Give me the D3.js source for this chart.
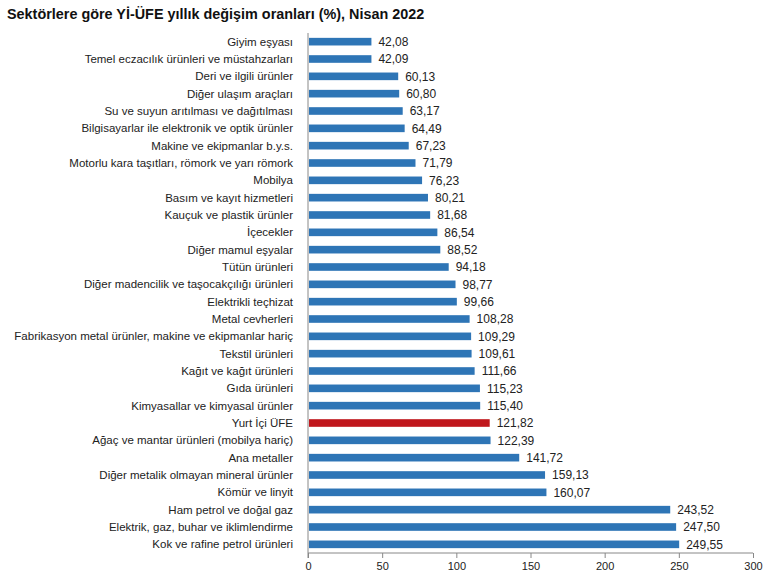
<!DOCTYPE html>
<html>
<head>
<meta charset="utf-8">
<script src="https://cdn.jsdelivr.net/npm/d3@7"></script>
<style>
body { margin: 0; background: #fff; font-family: "Liberation Sans", Arial, sans-serif; }
.title { font-weight: bold; font-size: 14.4px; fill: #111; }
.cat { font-size: 11.5px; fill: #222; }
.val { font-size: 12px; fill: #222; }
.axis text { font-size: 11px; fill: #222; font-family: "Liberation Sans", Arial, sans-serif; }
.axis path, .axis line { stroke: #888; }
</style>
</head>
<body>
<div id="chart"></div>
<script>
// sector names, top to bottom
const sectors = [
	"Giyim eşyası",
	"Temel eczacılık ürünleri ve müstahzarları",
	"Deri ve ilgili ürünler",
	"Diğer ulaşım araçları",
	"Su ve suyun arıtılması ve dağıtılması",
	"Bilgisayarlar ile elektronik ve optik ürünler",
	"Makine ve ekipmanlar b.y.s.",
	"Motorlu kara taşıtları, römork ve yarı römork",
	"Mobilya",
	"Basım ve kayıt hizmetleri",
	"Kauçuk ve plastik ürünler",
	"İçecekler",
	"Diğer mamul eşyalar",
	"Tütün ürünleri",
	"Diğer madencilik ve taşocakçılığı ürünleri",
	"Elektrikli teçhizat",
	"Metal cevherleri",
	"Fabrikasyon metal ürünler, makine ve ekipmanlar hariç",
	"Tekstil ürünleri",
	"Kağıt ve kağıt ürünleri",
	"Gıda ürünleri",
	"Kimyasallar ve kimyasal ürünler",
	"Yurt İçi ÜFE",
	"Ağaç ve mantar ürünleri (mobilya hariç)",
	"Ana metaller",
	"Diğer metalik olmayan mineral ürünler",
	"Kömür ve linyit",
	"Ham petrol ve doğal gaz",
	"Elektrik, gaz, buhar ve iklimlendirme",
	"Kok ve rafine petrol ürünleri"
];
const rates = [42.08, 42.09, 60.13, 60.80, 63.17, 64.49, 67.23, 71.79, 76.23, 80.21,
	81.68, 86.54, 88.52, 94.18, 98.77, 99.66, 108.28, 109.29, 109.61, 111.66,
	115.23, 115.40, 121.82, 122.39, 141.72, 159.13, 160.07, 243.52, 247.50, 249.55];
const xTicks = [0, 50, 100, 150, 200, 250, 300];
const highlight = "Yurt İçi ÜFE";

const width = 770, height = 585;
const plotLeft = 308, plotRight = 753, plotTop = 33, plotBottom = 553;

const svg = d3.select("#chart").append("svg")
	.attr("width", width)
	.attr("height", height);

svg.append("text")
	.attr("class", "title")
	.attr("x", 7)
	.attr("y", 19)
	.text("Sektörlere göre Yİ-ÜFE yıllık değişim oranları (%), Nisan 2022");

const x = d3.scaleLinear().domain([0, 300]).range([plotLeft, plotRight]);
const y = d3.scaleBand().domain(sectors).range([plotTop, plotBottom]).paddingInner(0.56).paddingOuter(0.28);

// x axis
svg.append("g")
	.attr("class", "axis")
	.attr("transform", `translate(0,${plotBottom})`)
	.call(d3.axisBottom(x).tickValues(xTicks).tickSize(5).tickSizeOuter(0).tickPadding(4))
	.call(g => g.select(".domain").attr("d", `M${plotLeft},0H${plotRight}`));

// y axis line
svg.append("line")
	.attr("x1", plotLeft).attr("x2", plotLeft)
	.attr("y1", plotTop).attr("y2", plotBottom + 5)
	.attr("stroke", "#888");

const data = sectors.map((s, i) => ({ name: s, value: rates[i] }));

svg.selectAll(".bar").data(data).enter().append("rect")
	.attr("class", "bar")
	.attr("x", x(0) + 1)
	.attr("y", d => y(d.name))
	.attr("width", d => x(d.value) - x(0))
	.attr("height", y.bandwidth())
	.attr("fill", d => d.name === highlight ? "#c0171c" : "#2e75b6");

svg.selectAll(".cat").data(data).enter().append("text")
	.attr("class", "cat")
	.attr("x", 293)
	.attr("y", d => y(d.name) + y.bandwidth() / 2)
	.attr("dy", "0.35em")
	.attr("text-anchor", "end")
	.text(d => d.name);

svg.selectAll(".val").data(data).enter().append("text")
	.attr("class", "val")
	.attr("x", d => x(d.value) + 8)
	.attr("y", d => y(d.name) + y.bandwidth() / 2)
	.attr("dy", "0.35em")
	.text(d => d.value.toFixed(2).replace(".", ","));
</script>
</body>
</html>
